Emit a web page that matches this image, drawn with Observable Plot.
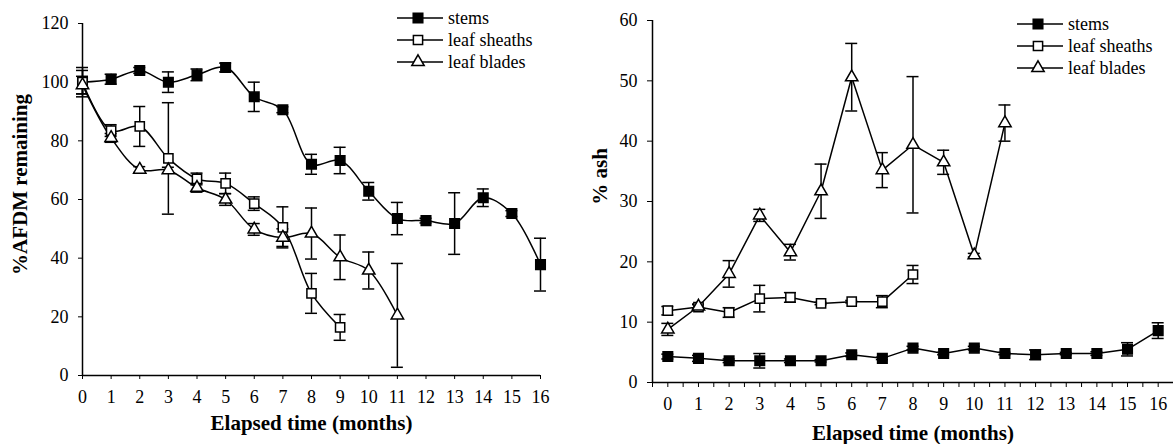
<!DOCTYPE html>
<html>
<head>
<meta charset="utf-8">
<script src="https://cdn.jsdelivr.net/npm/d3@7"></script>
<script src="https://cdn.jsdelivr.net/npm/@observablehq/plot@0.6"></script>
<style>
  html, body { margin: 0; padding: 0; background: white; }
  #wrap { position: relative; width: 1173px; height: 444px; overflow: hidden; font-family: "Liberation Serif", serif; }
  #left, #right { position: absolute; top: 0; }
  #left { left: 0; }
  #right { left: 590px; }
  #legend { position: absolute; left: 0; top: 0; pointer-events: none; }
  svg [aria-label$="axis"] line, svg [aria-label$="tick"] line { stroke-width: 1.5; }
</style>
</head>
<body>
<div id="wrap">
  <div id="left"></div>
  <div id="right"></div>
  <svg id="legend" width="1173" height="444"></svg>
</div>
<script>
// ---- data ----
const months = [0,1,2,3,4,5,6,7,8,9,10,11,12,13,14,15,16];
const seriesNames = ["stems", "leaf sheaths", "leaf blades"];
const xTitle = "Elapsed time (months)";
const leftYTitle = "%AFDM remaining";
const rightYTitle = "% ash";
const leftYTicks = [0,20,40,60,80,100,120];
const rightYTicks = [0,10,20,30,40,50,60];
const rightXTicks = [-0.5,0,0.5,1,1.5,2,2.5,3,3.5,4,4.5,5,5.5,6,6.5,7,7.5,8,8.5,9,9.5,10,10.5,11,11.5,12,12.5,13,13.5,14,14.5,15,15.5,16,16.5];

// %AFDM remaining
const afdmStems      = [100,101,104,100,102.5,105,95,90.6,72,73.3,62.8,53.5,52.8,51.8,60.6,55.2,37.8];
const afdmStemsErr   = [5,1.7,1,3.5,2,1.5,5,1,3.4,4.5,3,5.5,0.8,10.5,3,1,9];
const afdmSheaths    = [100,83.5,84.9,74,67,65.5,58.6,50.5,28,16.4];
const afdmSheathsErr = [4,2,6.8,19,2,3.5,2.3,7,6.8,4.4];
const afdmBlades     = [99,81,70.2,70,64,60,49.8,47,48.4,40.3,35.8,20.5];
const afdmBladesErr  = [3,1.5,1,1,1.5,2,2,3,8.7,7.6,6.3,17.7];

// % ash
const ashStems      = [4.3,4.0,3.6,3.6,3.6,3.6,4.6,4.0,5.7,4.8,5.7,4.8,4.6,4.8,4.8,5.5,8.6];
const ashStemsErr   = [0.4,0.5,0.3,1.2,0.3,0.2,0.3,0.2,0.3,0.2,0.3,0.2,0.8,0.2,0.3,1.1,1.3];
const ashSheaths    = [11.9,12.5,11.6,13.9,14.1,13.1,13.4,13.4,17.9];
const ashSheathsErr = [0.7,0.5,0.8,2.2,0.8,0.2,0.2,1.0,1.5];
const ashBlades     = [8.8,12.6,18,27.7,21.6,31.7,50.6,35.2,39.4,36.5,21.1,43];
const ashBladesErr  = [1,0.3,2.2,1,1.3,4.5,5.6,2.9,11.3,2,0.3,3];

// ---- helpers ----
function rows(vals, errs, series) {
  return vals.map((v, i) => ({x: months[i], y: v, e: errs[i], series}));
}
const symbolFor = {"stems": "square", "leaf sheaths": "square", "leaf blades": "triangle"};
const fillFor = {"stems": "black", "leaf sheaths": "white", "leaf blades": "white"};
const rFor = {"stems": 5.4, "leaf sheaths": 5.2, "leaf blades": 4.6};

function seriesMarks(data, curve) {
  return [
    Plot.line(data, {x: "x", y: "y", curve, stroke: "black", strokeWidth: 1.5}),
    Plot.ruleX(data, {x: "x", y1: d => d.y - d.e, y2: d => d.y + d.e, stroke: "black", strokeWidth: 1.5}),
    Plot.ruleY(data, {x1: "x", x2: "x", y: d => d.y + d.e, insetLeft: -6, insetRight: -6, stroke: "black", strokeWidth: 1.5}),
    Plot.ruleY(data, {x1: "x", x2: "x", y: d => d.y - d.e, insetLeft: -6, insetRight: -6, stroke: "black", strokeWidth: 1.5})
  ];
}
function dotMarks(data) {
  const name = data[0].series;
  return Plot.dot(data, {x: "x", y: "y", symbol: () => symbolFor[name], r: rFor[name], fill: fillFor[name], stroke: "black", strokeWidth: 1.5});
}

const style = {fontFamily: "Liberation Serif", fontSize: "18px", color: "black", background: "white", overflow: "visible"};
const titleSize = 21;

// ---- left chart ----
const L = [rows(afdmStems, afdmStemsErr, seriesNames[0]), rows(afdmSheaths, afdmSheathsErr, seriesNames[1]), rows(afdmBlades, afdmBladesErr, seriesNames[2])];
const left = Plot.plot({
  width: 590, height: 444,
  marginLeft: 82, marginRight: 50, marginTop: 23, marginBottom: 69,
  style,
  x: {type: "linear", domain: [0, 16], ticks: months, tickSize: 4, tickPadding: 11, label: null},
  y: {domain: [0, 120], ticks: leftYTicks, tickSize: 4, tickPadding: 10, label: null},
  marks: [
    Plot.ruleY([0], {stroke: "black", strokeWidth: 1.5}),
    Plot.ruleX([0], {stroke: "black", strokeWidth: 1.5}),
    ...L.flatMap(d => seriesMarks(d, "catmull-rom")),
    ...L.map(dotMarks),
    Plot.text([xTitle], {frameAnchor: "bottom", lineAnchor: "middle", textAnchor: "middle", dy: 48, fontWeight: "bold", fontSize: titleSize, fill: "black"}),
    Plot.text([leftYTitle], {frameAnchor: "left", textAnchor: "middle", lineAnchor: "middle", dx: -62, dy: -15, rotate: -90, fontWeight: "bold", fontSize: titleSize, fill: "black"})
  ]
});
document.getElementById("left").appendChild(left);

// ---- right chart ----
const R = [rows(ashStems, ashStemsErr, seriesNames[0]), rows(ashSheaths, ashSheathsErr, seriesNames[1]), rows(ashBlades, ashBladesErr, seriesNames[2])];
const right = Plot.plot({
  width: 583, height: 444,
  marginLeft: 62, marginRight: 0, marginTop: 20, marginBottom: 62,
  style,
  x: {type: "linear", domain: [-0.5, 16.5], ticks: rightXTicks, tickFormat: d => Number.isInteger(d) ? String(d) : "", tickSize: 5, tickPadding: 10, label: null},
  y: {domain: [0, 60], ticks: rightYTicks, tickSize: 5, tickPadding: 10, label: null},
  marks: [
    Plot.ruleY([0], {stroke: "black", strokeWidth: 1.5}),
    Plot.ruleX([-0.5], {stroke: "black", strokeWidth: 1.5}),
    ...R.flatMap(d => seriesMarks(d, "linear")),
    ...R.map(dotMarks),
    Plot.text([xTitle], {frameAnchor: "bottom", lineAnchor: "middle", textAnchor: "middle", dy: 51, fontWeight: "bold", fontSize: titleSize, fill: "black"}),
    Plot.text([rightYTitle], {frameAnchor: "left", textAnchor: "middle", lineAnchor: "middle", dx: -52, dy: -25, rotate: -90, fontWeight: "bold", fontSize: titleSize, fill: "black"})
  ]
});
document.getElementById("right").appendChild(right);

// ---- legends ----
const leg = d3.select("#legend");
function drawLegend(x0, y0, rowH) {
  seriesNames.forEach((name, i) => {
    const y = y0 + i * rowH;
    leg.append("line").attr("x1", x0).attr("x2", x0 + 46).attr("y1", y).attr("y2", y)
      .attr("stroke", "black").attr("stroke-width", 1.5);
    const sym = symbolFor[name] === "square" ? d3.symbolSquare : d3.symbolTriangle;
    const r = rFor[name];
    leg.append("path").attr("d", d3.symbol(sym, Math.PI * r * r)())
      .attr("transform", `translate(${x0 + 21},${y})`)
      .attr("fill", fillFor[name]).attr("stroke", "black").attr("stroke-width", 1.5);
    leg.append("text").attr("x", x0 + 51).attr("y", y).attr("dy", "0.32em")
      .attr("font-family", "Liberation Serif").attr("font-size", 18).attr("fill", "black").text(name);
  });
}
drawLegend(397, 18, 22);
drawLegend(1017, 24, 22);
</script>
</body>
</html>
